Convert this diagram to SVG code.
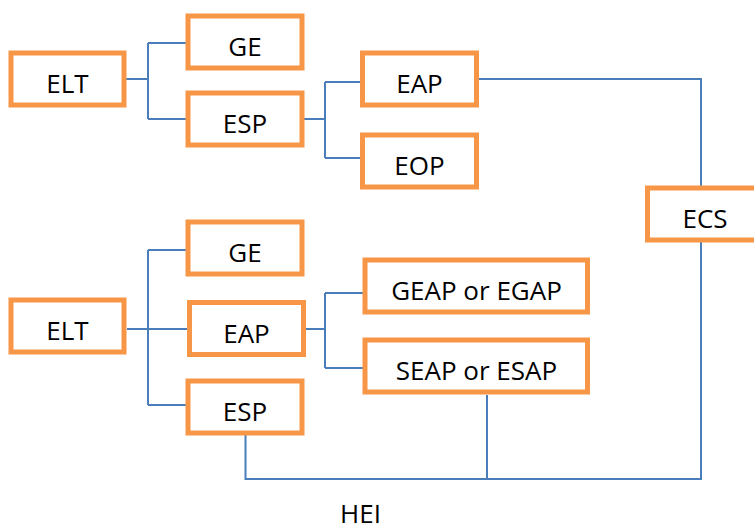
<svg xmlns="http://www.w3.org/2000/svg" width="754" height="526" viewBox="0 0 754 526">
<style>
.box{fill:#fff;stroke:#F79646;stroke-width:5}
.lbl{font-family:"Open Sans","Noto Sans",sans-serif;font-size:26px;fill:#000;text-anchor:middle}
.con{fill:none;stroke:#4A7EBB;stroke-width:2}
</style>
<rect width="754" height="526" fill="#fff"/>
<g id="connectors">
<path class="con" d="M125 79H148M148 43V119M148 43H189M148 119H188"/>
<path class="con" d="M302 119H325M325 82V158M325 82H363M325 158H363"/>
<path class="con" d="M479 79H701V188"/>
<path class="con" d="M127 329H190M148 250V405M148 250H188M148 405H188"/>
<path class="con" d="M304 329H325M325 293V368M325 293H365M325 368H365"/>
<path class="con" d="M487 395V479M245.5 434V479H701V242"/>
</g>
<g id="elt1"><rect class="box" x="11" y="53" width="113" height="52"/><text class="lbl" x="67.5" y="93">ELT</text></g>
<g id="ge1"><rect class="box" x="188" y="16" width="114" height="52"/><text class="lbl" x="245" y="56">GE</text></g>
<g id="esp1"><rect class="box" x="188" y="93" width="114" height="52"/><text class="lbl" x="245" y="133">ESP</text></g>
<g id="eap1"><rect class="box" x="362.5" y="53" width="114" height="52"/><text class="lbl" x="419.5" y="93">EAP</text></g>
<g id="eop1"><rect class="box" x="362.5" y="135" width="114" height="52"/><text class="lbl" x="419.5" y="175">EOP</text></g>
<g id="ecs"><rect class="box" x="647.5" y="188" width="115" height="52"/><text class="lbl" x="705" y="228">ECS</text></g>
<g id="elt2"><rect class="box" x="11" y="300" width="113" height="52"/><text class="lbl" x="67.5" y="340">ELT</text></g>
<g id="ge2"><rect class="box" x="188" y="222" width="114" height="52"/><text class="lbl" x="245" y="262">GE</text></g>
<g id="eap2"><rect class="box" x="189.5" y="302.5" width="114" height="52"/><text class="lbl" x="246.5" y="342.5">EAP</text></g>
<g id="esp2"><rect class="box" x="188" y="381" width="114" height="52"/><text class="lbl" x="245" y="421">ESP</text></g>
<g id="geap"><rect class="box" x="365" y="260" width="222.5" height="52"/><text class="lbl" x="476.5" y="300">GEAP or EGAP</text></g>
<g id="seap"><rect class="box" x="365" y="340" width="222.5" height="52"/><text class="lbl" x="476.5" y="380">SEAP or ESAP</text></g>
<g id="hei"><text class="lbl" x="360.5" y="523">HEI</text></g>
</svg>
